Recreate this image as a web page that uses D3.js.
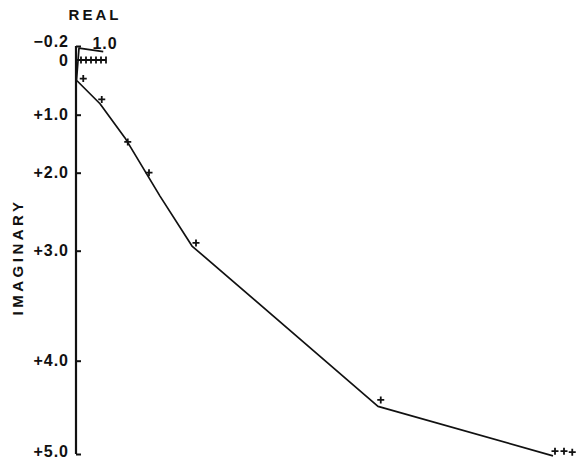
<!DOCTYPE html>
<html>
<head>
<meta charset="utf-8">
<script src="https://cdn.jsdelivr.net/npm/d3@7"></script>
<style>
  html, body { margin: 0; padding: 0; background: #fff; }
  text { font-family: "Liberation Sans", Arial, sans-serif; font-weight: bold; fill: #111; }
</style>
</head>
<body>
<svg id="chart" width="576" height="461"></svg>
<script>
// Imaginary-axis ticks (plotted downward, unevenly spaced)
const imagTicks = [-0.2, 0, 1, 2, 3, 4, 5];
const imagTickLabels = ["\u22120.2", "0", "+1.0", "+2.0", "+3.0", "+4.0", "+5.0"];
// Real-axis ticks along the zero line
const realTicks = [0, 0.2, 0.4, 0.6, 0.8, 1.0];
const realTickLabel = "1.0";

// Computed locus (solid line)
const locusReal = [0.89, -0.08, -0.18, 0.76, 1.76, 3.16, 4.44, 11.88, 18.88];
const locusImag = [-0.12, -0.17, 0.37, 0.80, 1.40, 2.30, 2.94, 4.49, 5.02];

// Measured points (crosses)
const measReal = [0.09, 0.83, 1.87, 2.72, 4.60, 11.99, 18.96, 19.32, 19.65];
const measImag = [0.34, 0.72, 1.47, 2.00, 2.90, 4.42, 4.97, 4.97, 4.98];

const svg = d3.select("#chart");

// Real axis: -0.2 sits on the imaginary axis line
const x = d3.scaleLinear().domain([-0.2, 1.0]).range([76, 106]);
// Imaginary axis: piecewise scale following the printed graduations
const y = d3.scaleLinear().domain(imagTicks).range([46, 60, 114.7, 172.7, 250.7, 360.7, 454]);

const ink = "#111";

// Imaginary axis line with right-pointing ticks
const yAxis = d3.axisRight(y)
  .tickValues(imagTicks.filter(d => d !== 0))
  .tickSize(5)
  .tickFormat("");
const gy = svg.append("g").attr("transform", `translate(${x(-0.2)},0)`).call(yAxis);
gy.select(".domain").attr("d", `M0,${y(-0.2)}V${y(5)}`).attr("stroke", ink).attr("stroke-width", 2.2);
gy.selectAll(".tick line").attr("stroke", ink).attr("stroke-width", 2);

// Imaginary tick labels (the bottom one nudged up to stay inside the frame)
svg.append("g").selectAll("text")
  .data(imagTicks)
  .join("text")
  .attr("x", 69)
  .attr("y", d => y(d))
  .attr("dy", d => d === -0.2 ? "0.05em" : d === 5 ? "0.2em" : "0.36em")
  .attr("text-anchor", "end")
  .attr("font-size", 16)
  .attr("letter-spacing", 1)
  .text((d, i) => imagTickLabels[i]);

// Real axis along imaginary zero, ticks crossing the line
const gx = svg.append("g").attr("transform", `translate(0,${y(0)})`);
gx.append("line")
  .attr("x1", x(-0.2)).attr("x2", x(1.0))
  .attr("stroke", ink).attr("stroke-width", 2);
gx.selectAll("line.tk")
  .data(realTicks)
  .join("line")
  .attr("class", "tk")
  .attr("x1", d => x(d)).attr("x2", d => x(d))
  .attr("y1", -3.5).attr("y2", 3.5)
  .attr("stroke", ink).attr("stroke-width", 1.8);

svg.append("text")
  .attr("x", x(1.0) - 1)
  .attr("y", 49)
  .attr("text-anchor", "middle")
  .attr("font-size", 16)
  .attr("letter-spacing", 1)
  .text(realTickLabel);

// Axis titles
svg.append("text")
  .attr("x", 95)
  .attr("y", 20)
  .attr("text-anchor", "middle")
  .attr("font-size", 15)
  .attr("letter-spacing", 3)
  .text("REAL");

svg.append("text")
  .attr("transform", "translate(23,257) rotate(-90)")
  .attr("text-anchor", "middle")
  .attr("font-size", 15)
  .attr("letter-spacing", 3.5)
  .text("IMAGINARY");

// Locus
const locus = locusReal.map((r, i) => [r, locusImag[i]]);
svg.append("path")
  .datum(locus)
  .attr("fill", "none")
  .attr("stroke", ink)
  .attr("stroke-width", 1.7)
  .attr("stroke-linejoin", "round")
  .attr("d", d3.line().x(d => x(d[0])).y(d => y(d[1])));

// Measured crosses
const meas = measReal.map((r, i) => [r, measImag[i]]);
svg.append("g").selectAll("path")
  .data(meas)
  .join("path")
  .attr("transform", d => `translate(${x(d[0])},${y(d[1])})`)
  .attr("d", "M-3.5,0H3.5M0,-3.5V3.5")
  .attr("stroke", ink)
  .attr("stroke-width", 1.8);
</script>
</body>
</html>
